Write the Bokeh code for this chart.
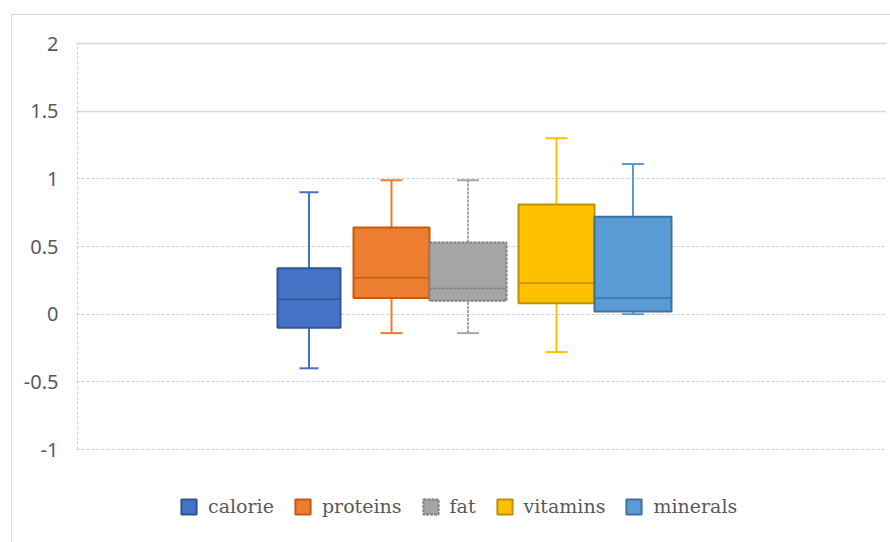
from bokeh.plotting import figure
from bokeh.models import Range1d, FixedTicker, Legend, LegendItem, Grid, ColumnDataSource
from bokeh.embed import file_html
from bokeh.resources import INLINE

# ---- data ----
categories = ["calorie", "proteins", "fat", "vitamins", "minerals"]
whisker_low = [-0.40, -0.14, -0.14, -0.28, 0.00]
q1 = [-0.10, 0.12, 0.10, 0.08, 0.02]
median = [0.11, 0.27, 0.19, 0.23, 0.12]
q3 = [0.34, 0.64, 0.53, 0.81, 0.72]
whisker_high = [0.90, 0.99, 0.99, 1.30, 1.11]
y_ticks = [-1, -0.5, 0, 0.5, 1, 1.5, 2]
y_tick_labels = ["-1", "-0.5", "0", "0.5", "1", "1.5", "2"]

# ---- layout / style ----
box_centers = [231.5, 314, 390.5, 479, 555.5]   # horizontal slots (frame px units)
box_widths = [63, 76, 77, 76, 77]
cap_widths = [19, 22, 22, 22, 22]
fills = ["#4472C4", "#ED7D31", "#A5A5A5", "#FFC000", "#5B9BD5"]
darks = ["#2F5597", "#C55A11", "#7F7F7F", "#BF9000", "#41719C"]
dashes = ["solid", "solid", "3 1", "solid", "solid"]

px_per_unit = 406 / 3.0
y_top = 2 + 2 / px_per_unit
y_bot = -1 - 92 / px_per_unit

p = figure(width=879, height=528, output_backend="svg", toolbar_location=None,
           x_range=Range1d(-1, 809), y_range=Range1d(y_bot, y_top),
           min_border_left=64, min_border_right=5, min_border_top=26, min_border_bottom=2)
p.margin = (14, 0, 0, 11)
p.styles = {"border-top": "1px solid #d9d9d9", "border-left": "1px solid #d9d9d9"}
p.outline_line_color = None
p.background_fill_color = "white"
p.border_fill_color = "white"
p.xaxis.visible = False
p.xgrid.visible = False

# y axis
ax = p.yaxis[0]
ax.ticker = FixedTicker(ticks=y_ticks)
ax.major_label_overrides = {t: l for t, l in zip(y_ticks, y_tick_labels)}
ax.major_label_text_font = "Noto Sans"
ax.major_label_text_font_size = "20px"
ax.major_label_text_color = "#595959"
ax.major_tick_line_color = None
ax.minor_tick_line_color = None
ax.axis_line_color = None
ax.major_label_standoff = 12

# grid: dashed for all, solid overlay for some
p.ygrid.ticker = FixedTicker(ticks=y_ticks)
p.ygrid.grid_line_color = "#d0d0d0"
p.ygrid.grid_line_dash = "3 2"
p.ygrid.grid_line_width = 1
solid = Grid(dimension=1, ticker=FixedTicker(ticks=[2, 1.5]), grid_line_color="#d9d9d9", grid_line_width=1.5)
p.add_layout(solid)

# left dashed edge of the plot area
p.segment(x0=[0], y0=[y_ticks[0]], x1=[0], y1=[y_ticks[-1]], line_color="#d0d0d0", line_dash="3 2", line_width=1)

items = []
for i, name in enumerate(categories):
    c = box_centers[i]
    src = ColumnDataSource(dict(x=[c], lo=[whisker_low[i]], q1=[q1[i]], med=[median[i]],
                                q3=[q3[i]], hi=[whisker_high[i]],
                                cl=[c - cap_widths[i] / 2], cr=[c + cap_widths[i] / 2],
                                bl=[c - box_widths[i] / 2], br=[c + box_widths[i] / 2]))
    # whiskers
    p.segment(x0="x", y0="q3", x1="x", y1="hi", source=src, line_color=fills[i], line_width=2, line_dash=dashes[i])
    p.segment(x0="x", y0="lo", x1="x", y1="q1", source=src, line_color=fills[i], line_width=2, line_dash=dashes[i])
    p.segment(x0="cl", y0="hi", x1="cr", y1="hi", source=src, line_color=fills[i], line_width=2)
    p.segment(x0="cl", y0="lo", x1="cr", y1="lo", source=src, line_color=fills[i], line_width=2)
    # box
    r = p.vbar(x="x", width=box_widths[i], bottom="q1", top="q3", source=src,
               fill_color=fills[i], line_color=darks[i], line_width=2, line_dash=dashes[i])
    p.segment(x0="bl", y0="med", x1="br", y1="med", source=src, line_color=darks[i], line_width=1.5, line_dash=dashes[i])
    items.append(LegendItem(label=name, renderers=[r]))

legend = Legend(items=items, orientation="horizontal", location=(103, 24),
                label_text_font="DejaVu Serif", label_text_font_size="19px",
                label_text_color="#595959", glyph_width=19, glyph_height=19,
                label_height=19, label_standoff=10, spacing=19, padding=0, margin=0,
                border_line_color=None, background_fill_alpha=0)
p.add_layout(legend, "center")

open("out.html", "w").write(file_html(p, INLINE))
